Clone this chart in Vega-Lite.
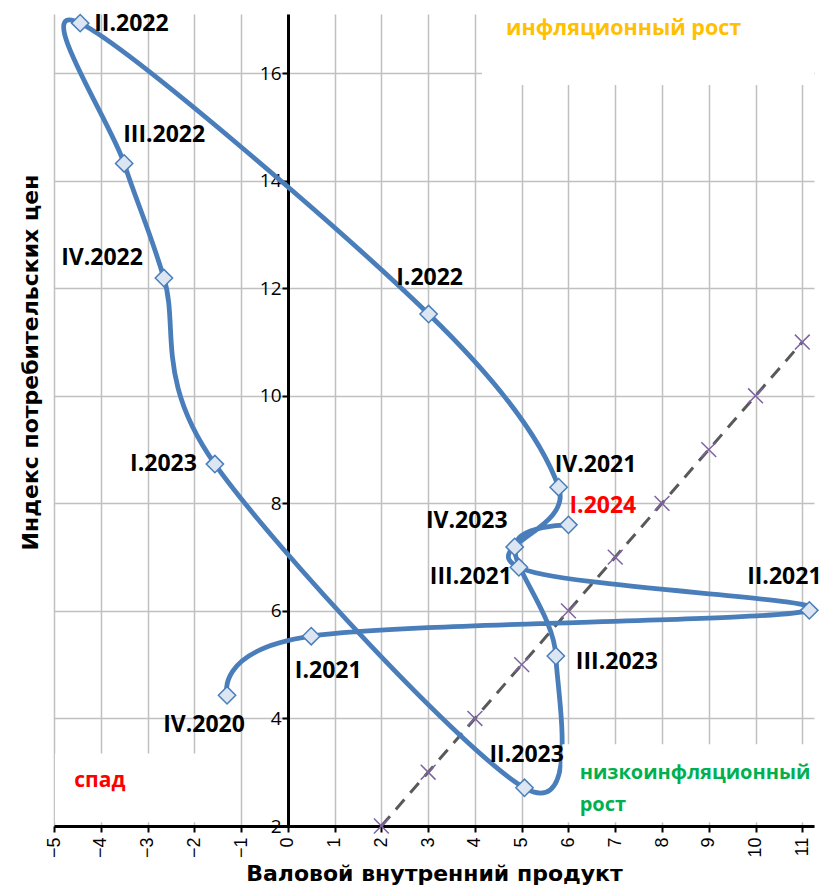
{
  "$schema": "https://vega.github.io/schema/vega-lite/v6.json",
  "width": 760,
  "height": 812,
  "autosize": {"type": "none"},
  "padding": {"left": 54, "top": 14, "right": 10, "bottom": 66},
  "background": "white",
  "config": {"view": {"stroke": null}},
  "datasets": {
    "pts": [
      {"i": 0, "q": "IV.2020", "x": -1.3, "y": 4.43},
      {"i": 1, "q": "I.2021", "x": 0.5, "y": 5.53},
      {"i": 2, "q": "II.2021", "x": 11.15, "y": 6.01},
      {"i": 3, "q": "III.2021", "x": 4.94, "y": 6.81},
      {"i": 4, "q": "IV.2021", "x": 5.79, "y": 8.3},
      {"i": 5, "q": "I.2022", "x": 3.01, "y": 11.52},
      {"i": 6, "q": "II.2022", "x": -4.44, "y": 16.93},
      {"i": 7, "q": "III.2022", "x": -3.5, "y": 14.32},
      {"i": 8, "q": "IV.2022", "x": -2.65, "y": 12.19},
      {"i": 9, "q": "I.2023", "x": -1.56, "y": 8.73},
      {"i": 10, "q": "II.2023", "x": 5.06, "y": 2.71},
      {"i": 11, "q": "III.2023", "x": 5.73, "y": 5.16},
      {"i": 12, "q": "IV.2023", "x": 4.85, "y": 7.19},
      {"i": 13, "q": "I.2024", "x": 6.0, "y": 7.6}
    ],
    "diag": [
      {"x": 2, "y": 2}, {"x": 3, "y": 3}, {"x": 4, "y": 4}, {"x": 5, "y": 5},
      {"x": 6, "y": 6}, {"x": 7, "y": 7}, {"x": 8, "y": 8}, {"x": 9, "y": 9},
      {"x": 10, "y": 10}, {"x": 11, "y": 11}
    ],
    "boxes": [
      {"x": 4.15, "x2": 11.25, "y": 15.78, "y2": 17.1},
      {"x": 5.87, "x2": 11.25, "y": 2.07, "y2": 3.52},
      {"x": -4.98, "x2": -1.55, "y": 2.07, "y2": 3.35}
    ],
    "notes": [
      {"k": "inf", "t": "инфляционный рост", "x": 7.18, "y": 16.83},
      {"k": "spad", "t": "спад", "x": -4.02, "y": 2.84},
      {"k": "low", "t": "низкоинфляционный", "x": 6.24, "y": 2.99},
      {"k": "low", "t": "рост", "x": 6.24, "y": 2.39}
    ]
  },
  "encoding": {
    "x": {
      "field": "x", "type": "quantitative",
      "scale": {"domain": [-5, 11.25], "nice": false, "zero": false},
      "axis": {
        "values": [-5, -4, -3, -2, -1, 0, 1, 2, 3, 4, 5, 6, 7, 8, 9, 10, 11],
        "title": "Валовой внутренний продукт",
        "titleFont": "DejaVu Sans", "titleFontSize": 22, "titleFontWeight": "bold", "titleColor": "black",
        "titlePadding": 6,
        "labelAngle": -90, "labelFont": "Liberation Sans", "labelFontSize": 18, "labelColor": "black",
        "labelPadding": 5, "labelOverlap": false, "labelFlush": false,
        "grid": true, "gridColor": "#C0C0C0", "gridWidth": 1.5,
        "domainColor": "black", "domainWidth": 3,
        "tickColor": "black", "tickWidth": 2, "tickSize": 6
      }
    },
    "y": {
      "field": "y", "type": "quantitative",
      "scale": {"domain": [2, 17.1], "nice": false, "zero": false},
      "axis": {
        "values": [2, 4, 6, 8, 10, 12, 14, 16],
        "offset": -234,
        "title": "Индекс потребительских цен",
        "titleFont": "DejaVu Sans", "titleFontSize": 22, "titleFontWeight": "bold", "titleColor": "black",
        "titleX": -258, "titleY": 348, "titleAngle": -90, "titleBaseline": "middle", "titleAlign": "center",
        "labelFont": "Open Sans", "labelFontSize": 19, "labelColor": "black", "labelPadding": 1,
        "grid": true, "gridColor": "#C0C0C0", "gridWidth": 1.5,
        "domainColor": "black", "domainWidth": 3,
        "tickColor": "black", "tickWidth": 2, "tickSize": 6
      }
    }
  },
  "layer": [
    {
      "data": {"name": "diag"},
      "mark": {"type": "line", "color": "#595959", "strokeWidth": 3, "strokeDash": [13, 9]}
    },
    {
      "data": {"name": "diag"},
      "mark": {"type": "point", "shape": "M-1,-1L1,1M-1,1L1,-1", "filled": false, "color": "#7F63A1", "strokeWidth": 1.5, "size": 220, "opacity": 1}
    },
    {
      "data": {"name": "pts"},
      "mark": {"type": "line", "color": "#4A7EBB", "strokeWidth": 4.8, "interpolate": "cardinal"},
      "encoding": {"order": {"field": "i", "type": "quantitative"}}
    },
    {
      "data": {"name": "boxes"},
      "mark": {"type": "rect", "color": "white", "opacity": 1},
      "encoding": {"x2": {"field": "x2"}, "y2": {"field": "y2"}}
    },
    {
      "data": {"name": "pts"},
      "mark": {"type": "point", "shape": "diamond", "filled": true, "fill": "#DCE6F2", "stroke": "#4A7EBB", "strokeWidth": 1.5, "size": 300, "opacity": 1}
    },
    {"data": {"name": "pts"}, "transform": [{"filter": "datum.q === 'IV.2020'"}],
     "mark": {"type": "text", "align": "center", "baseline": "middle", "dx": -23, "dy": 30, "font": "Open Sans", "fontWeight": "bold", "fontSize": 23, "color": "black"},
     "encoding": {"text": {"field": "q"}}},
    {"data": {"name": "pts"}, "transform": [{"filter": "datum.q === 'I.2021'"}],
     "mark": {"type": "text", "align": "center", "baseline": "middle", "dx": 17, "dy": 35, "font": "Open Sans", "fontWeight": "bold", "fontSize": 23, "color": "black"},
     "encoding": {"text": {"field": "q"}}},
    {"data": {"name": "pts"}, "transform": [{"filter": "datum.q === 'II.2021'"}],
     "mark": {"type": "text", "align": "center", "baseline": "middle", "dx": -25, "dy": -33, "font": "Open Sans", "fontWeight": "bold", "fontSize": 23, "color": "black"},
     "encoding": {"text": {"field": "q"}}},
    {"data": {"name": "pts"}, "transform": [{"filter": "datum.q === 'III.2021'"}],
     "mark": {"type": "text", "align": "right", "baseline": "middle", "dx": -7, "dy": 10, "font": "Open Sans", "fontWeight": "bold", "fontSize": 23, "color": "black"},
     "encoding": {"text": {"field": "q"}}},
    {"data": {"name": "pts"}, "transform": [{"filter": "datum.q === 'IV.2021'"}],
     "mark": {"type": "text", "align": "left", "baseline": "middle", "dx": -4, "dy": -22, "font": "Open Sans", "fontWeight": "bold", "fontSize": 23, "color": "black"},
     "encoding": {"text": {"field": "q"}}},
    {"data": {"name": "pts"}, "transform": [{"filter": "datum.q === 'I.2022'"}],
     "mark": {"type": "text", "align": "center", "baseline": "middle", "dx": 1, "dy": -36, "font": "Open Sans", "fontWeight": "bold", "fontSize": 23, "color": "black"},
     "encoding": {"text": {"field": "q"}}},
    {"data": {"name": "pts"}, "transform": [{"filter": "datum.q === 'II.2022'"}],
     "mark": {"type": "text", "align": "left", "baseline": "middle", "dx": 14, "dy": 1, "font": "Open Sans", "fontWeight": "bold", "fontSize": 23, "color": "black"},
     "encoding": {"text": {"field": "q"}}},
    {"data": {"name": "pts"}, "transform": [{"filter": "datum.q === 'III.2022'"}],
     "mark": {"type": "text", "align": "left", "baseline": "middle", "dx": -1, "dy": -28, "font": "Open Sans", "fontWeight": "bold", "fontSize": 23, "color": "black"},
     "encoding": {"text": {"field": "q"}}},
    {"data": {"name": "pts"}, "transform": [{"filter": "datum.q === 'IV.2022'"}],
     "mark": {"type": "text", "align": "right", "baseline": "middle", "dx": -21, "dy": -20, "font": "Open Sans", "fontWeight": "bold", "fontSize": 23, "color": "black"},
     "encoding": {"text": {"field": "q"}}},
    {"data": {"name": "pts"}, "transform": [{"filter": "datum.q === 'I.2023'"}],
     "mark": {"type": "text", "align": "right", "baseline": "middle", "dx": -18, "dy": 0, "font": "Open Sans", "fontWeight": "bold", "fontSize": 23, "color": "black"},
     "encoding": {"text": {"field": "q"}}},
    {"data": {"name": "pts"}, "transform": [{"filter": "datum.q === 'II.2023'"}],
     "mark": {"type": "text", "align": "left", "baseline": "middle", "dx": -35, "dy": -33, "font": "Open Sans", "fontWeight": "bold", "fontSize": 23, "color": "black"},
     "encoding": {"text": {"field": "q"}}},
    {"data": {"name": "pts"}, "transform": [{"filter": "datum.q === 'III.2023'"}],
     "mark": {"type": "text", "align": "left", "baseline": "middle", "dx": 20, "dy": 6, "font": "Open Sans", "fontWeight": "bold", "fontSize": 23, "color": "black"},
     "encoding": {"text": {"field": "q"}}},
    {"data": {"name": "pts"}, "transform": [{"filter": "datum.q === 'IV.2023'"}],
     "mark": {"type": "text", "align": "right", "baseline": "middle", "dx": -7, "dy": -26, "font": "Open Sans", "fontWeight": "bold", "fontSize": 23, "color": "black"},
     "encoding": {"text": {"field": "q"}}},
    {"data": {"name": "pts"}, "transform": [{"filter": "datum.q === 'I.2024'"}],
     "mark": {"type": "text", "align": "left", "baseline": "middle", "dx": 1, "dy": -19, "font": "Open Sans", "fontWeight": "bold", "fontSize": 23, "color": "#FF0000"},
     "encoding": {"text": {"field": "q"}}},
    {"data": {"name": "notes"}, "transform": [{"filter": "datum.k === 'inf'"}],
     "mark": {"type": "text", "align": "center", "baseline": "middle", "font": "Open Sans", "fontWeight": "bold", "fontSize": 21.5, "color": "#FFC000"},
     "encoding": {"text": {"field": "t"}}},
    {"data": {"name": "notes"}, "transform": [{"filter": "datum.k === 'spad'"}],
     "mark": {"type": "text", "align": "center", "baseline": "middle", "font": "Open Sans", "fontWeight": "bold", "fontSize": 21, "color": "#FF0000"},
     "encoding": {"text": {"field": "t"}}},
    {"data": {"name": "notes"}, "transform": [{"filter": "datum.k === 'low'"}],
     "mark": {"type": "text", "align": "left", "baseline": "middle", "font": "Open Sans", "fontWeight": "bold", "fontSize": 20, "color": "#00B050"},
     "encoding": {"text": {"field": "t"}}}
  ]
}
